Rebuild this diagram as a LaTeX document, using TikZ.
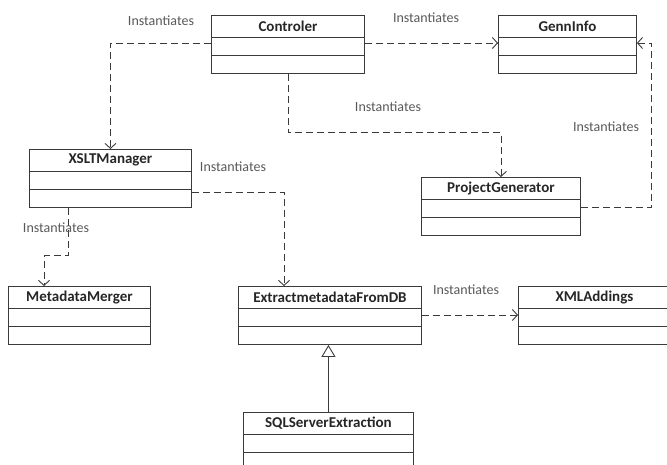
\documentclass[tikz,border=0pt]{standalone}
\usepackage{fontspec}
\setmainfont{Carlito}
\usepackage{tikz}
\usetikzlibrary{arrows.meta,calc,positioning}
\usepackage{xcolor}

\definecolor{linec}{HTML}{3A3A3A}
\definecolor{namec}{HTML}{262626}
\definecolor{lblc}{HTML}{595959}

\tikzset{
  classbox/.style={draw=linec, line width=0.9pt, minimum height=58pt, anchor=north west, inner sep=0pt},
  classname/.style={anchor=north, inner sep=0pt, minimum height=22pt, text=namec, font=\fontsize{15}{18}\selectfont\bfseries},
  classline/.style={draw=linec, line width=0.9pt},
  dep/.style={draw=linec, line width=0.9pt, dash pattern=on 7pt off 4pt, -{Straight Barb[length=5pt,width=11pt]}},
  inherit/.style={draw=linec, line width=0.9pt, -{Triangle[open,length=12pt,width=14pt]}},
  lbl/.style={inner sep=0pt, text=lblc, font=\fontsize{14}{16}\selectfont}
}

% class box: name, x, y (top left), width, title
\newcommand{\umlclass}[5]{%
  \node[classbox, minimum width=#4pt] (#1) at (#2,#3) {};
  \node[classname] (#1-title) at (#1.north) {#5};
  \draw[classline] ([yshift=-22pt]#1.north west) -- ([yshift=-22pt]#1.north east);
  \draw[classline] ([yshift=-40pt]#1.north west) -- ([yshift=-40pt]#1.north east);
}

\begin{document}
\begin{tikzpicture}[x=1pt,y=-1pt]
  \useasboundingbox (0,0) rectangle (667,465);
  \clip (0,0) rectangle (667,465);
  % classes
  \umlclass{ctrl}{211}{15}{153}{Controler}
  \umlclass{genn}{498}{15}{138}{GennInfo}
  \umlclass{xslt}{29}{149}{162}{XSLTManager}
  \umlclass{proj}{421}{177}{159}{ProjectGenerator}
  \umlclass{merger}{8}{286}{142}{MetadataMerger}
  \umlclass{extract}{238}{286}{183}{ExtractmetadataFromDB}
  \umlclass{xml}{518}{286}{152}{XMLAddings}
  \umlclass{sql}{243}{412}{170}{SQLServerExtraction}
  % dependencies
  \draw[dep] ([yshift=-28pt]ctrl.north west) -| (xslt.north);
  \draw[dep] ([yshift=-28pt]ctrl.north east) -- ([yshift=-28pt]genn.north west);
  \draw[dep] (ctrl.south) -- ++(0,59) -| (proj.north);
  \draw[dep] ([yshift=-30pt]proj.north east) -- ++(71,0) |- ([yshift=-28pt]genn.north east);
  \draw[dep] ([yshift=-43pt]xslt.north east) -| ([xshift=46pt]extract.north west);
  \draw[dep] ([xshift=39pt]xslt.south west) -- ++(0,48) -| ([xshift=36pt]merger.north west);
  \draw[dep] ([yshift=-29pt]extract.north east) -- ([yshift=-29pt]xml.north west);
  % generalization
  \draw[inherit] (sql.north) -- (sql.north |- extract.south);
  % labels
  \node[lbl] (l-xslt) at (161,21) {Instantiates};
  \node[lbl] (l-genn) at (426,18) {Instantiates};
  \node[lbl] (l-proj) at (388,107) {Instantiates};
  \node[lbl] (l-back) at (606,127) {Instantiates};
  \node[lbl] (l-extract) at (233,167) {Instantiates};
  \node[lbl] (l-merger) at (56,228) {Instantiates};
  \node[lbl] (l-xml) at (466,290) {Instantiates};
\end{tikzpicture}
\end{document}
